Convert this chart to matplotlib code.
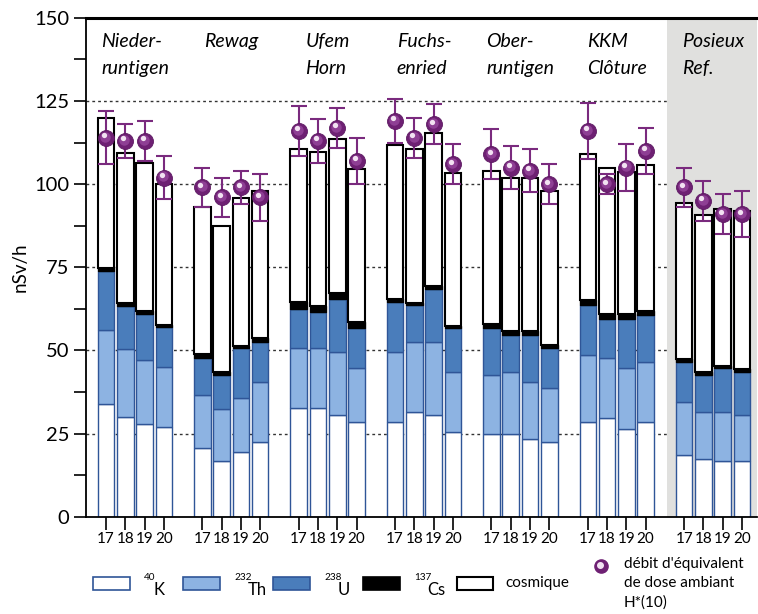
import matplotlib
matplotlib.use("Agg")
import matplotlib.pyplot as plt
from matplotlib.patches import Rectangle
from matplotlib.lines import Line2D
from matplotlib.transforms import offset_copy
import numpy as np

plt.rcParams['font.family'] = ['Lato', 'DejaVu Sans']

# Sites and measurement years
sites = ["Nieder-\nruntigen", "Rewag", "Ufem\nHorn", "Fuchs-\nenried",
         "Ober-\nruntigen", "KKM\nClôture", "Posieux\nRef."]
years = ["17", "18", "19", "20"]

# Dose-rate contributions per bar (nSv/h), four years per site
k40 = [34, 30, 28, 27, 20.6, 16.8, 19.6, 22.6, 32.6, 32.6, 30.6, 28.6,
       28.6, 31.6, 30.6, 25.5, 25, 25, 23.5, 22.6, 28.6, 29.6, 26.5, 28.6,
       18.5, 17.5, 16.8, 16.8]
th232 = [22, 20.5, 19, 18, 16, 15.6, 16, 18, 18, 18, 18.8, 16,
         21, 20.8, 22, 18.1, 17.6, 18.6, 17.1, 16, 20, 18, 18.1, 18,
         16.1, 14.1, 14.8, 13.8]
u238 = [18, 13, 14, 12, 11, 10.1, 15, 12, 12, 11, 16.2, 12,
        15, 11.2, 16, 13, 14, 11, 14, 12, 15, 12, 15, 14,
        12, 11, 13, 13]
cs137 = [0.7, 0.8, 0.8, 0.7, 1.3, 0.9, 0.8, 1.0, 2.0, 1.8, 1.8, 2.0,
         1.0, 0.8, 0.8, 0.8, 1.3, 1.3, 1.3, 1.1, 1.5, 1.3, 1.3, 1.3,
         0.8, 1.0, 0.8, 0.8]
cosmic = [45.3, 45.2, 44.7, 42.3, 44.3, 44.1, 44.4, 44.2, 46.1, 46.3, 46.3, 46.1,
          46.2, 46.3, 46.1, 46.1, 46.1, 45.9, 45.9, 46.1, 44.1, 43.9, 42.9, 43.9,
          46.8, 47.2, 47.1, 47.6]

# Ambient dose equivalent rate H*(10) with uncertainty
hstar = [114, 113, 113, 102, 99, 96, 99, 96, 116, 113, 117, 107,
         119, 114, 118, 106, 109, 105, 104, 100, 116, 100, 105, 110,
         99, 95, 91, 91]
hstar_err = [8, 5, 6, 6.5, 6, 6, 5, 7, 7.5, 6.5, 6, 7,
             6.5, 6, 6, 6, 7.5, 6.5, 6.5, 6, 8.5, 3, 7, 7,
             6, 6, 6, 7]

W, H = 758, 614
fig = plt.figure(figsize=(W / 100, H / 100), dpi=100)
ax = fig.add_axes([86 / W, 1 - 516.7 / H, (757 - 86) / W, (516.7 - 17.9) / H])

n_years = len(years)
xpos = np.array([g * (n_years + 1) + i for g in range(len(sites)) for i in range(n_years)])

blue_edge = "#2F5597"
c_th = "#8DB3E2"
c_u = "#4A7DBB"
bw = 0.86

bottom = np.zeros(len(xpos))
layers = [
    (k40, dict(facecolor="white", edgecolor=blue_edge, linewidth=1.0)),
    (th232, dict(facecolor=c_th, edgecolor=blue_edge, linewidth=1.0)),
    (u238, dict(facecolor=c_u, edgecolor=blue_edge, linewidth=1.0)),
    (cs137, dict(facecolor="black", edgecolor="black", linewidth=1.0)),
    (cosmic, dict(facecolor="white", edgecolor="black", linewidth=1.5)),
]
for vals, style in layers:
    vals = np.array(vals)
    ax.bar(xpos, vals, bw, bottom=bottom, zorder=3, **style)
    bottom = bottom + vals

# Reference site shading
ax.axvspan(29.12, 40, color="#E0E0DE", zorder=1, linewidth=0)

# Dose-rate markers with error bars
purple = "#7A2A7E"
ax.errorbar(xpos, hstar, yerr=hstar_err, fmt="none", ecolor=purple,
            elinewidth=1.5, capsize=5.6, capthick=1.5, zorder=5)
ax.plot(xpos, hstar, "o", ms=11.5, color="#6E2073", mec="#5E1A63", mew=0.6, zorder=6)
ax.plot(xpos, hstar, "o", ms=7.5, color="#8E3F94", mew=0, zorder=7,
        transform=offset_copy(ax.transData, fig=fig, x=-0.6, y=0.8, units="points"))
ax.plot(xpos, hstar, "o", ms=3.8, color="#F2E2F2", mew=0, zorder=8,
        transform=offset_copy(ax.transData, fig=fig, x=-1.4, y=1.8, units="points"))

# Axes
ax.set_xlim(-1.04, 33.78)
ax.set_ylim(0, 150)
ax.set_yticks(np.arange(0, 151, 25))
ax.set_yticks(np.arange(0, 151, 12.5), minor=True)
ax.set_yticklabels([str(v) for v in range(0, 151, 25)], fontsize=14.5)
ax.set_xticks(xpos)
ax.set_xticklabels(years * len(sites), fontsize=11)
ax.tick_params(axis="y", which="both", direction="out", length=9, width=1.2, pad=3)
ax.tick_params(axis="x", direction="out", length=9, width=1.2, pad=2)
ax.set_ylabel("nSv/h", fontsize=13.5, labelpad=4)

for v in range(25, 150, 25):
    ax.axhline(v, color="#333333", linestyle=(0, (2, 2.2)), linewidth=1.0, zorder=0.5)

ax.spines["right"].set_visible(False)
ax.spines["top"].set_linewidth(2.2)
ax.spines["left"].set_linewidth(1.3)
ax.spines["bottom"].set_linewidth(1.3)
for s in ax.spines.values():
    s.set_zorder(10)

# Site names, centred over each group of bars
for g, name in enumerate(sites):
    xc = g * (n_years + 1) + (n_years - 1) / 2
    ax.text(xc, 145.6, name, fontsize=14, style="italic",
            ha="center", va="top", multialignment="left",
            linespacing=1.75, zorder=9)

# Legend drawn in figure pixel space
def fx(x):
    return x / W

def fy(y):
    return 1 - y / H

leg_items = [
    (93, dict(facecolor="white", edgecolor=blue_edge, linewidth=1.2), "40", "K"),
    (183, dict(facecolor=c_th, edgecolor=blue_edge, linewidth=1.2), "232", "Th"),
    (273, dict(facecolor=c_u, edgecolor=blue_edge, linewidth=1.2), "238", "U"),
    (363, dict(facecolor="black", edgecolor="black", linewidth=1.2), "137", "Cs"),
]
for x0, st, mass, sym in leg_items:
    fig.add_artist(Rectangle((fx(x0), fy(590)), 37 / W, 13 / H,
                             transform=fig.transFigure, **st))
    fig.text(fx(x0 + 51), fy(578), mass, fontsize=7.2, ha="left", va="center")
    fig.text(fx(x0 + 51 + 4.3 * len(mass) + 0.5), fy(590), sym, fontsize=12,
             ha="left", va="center")

fig.add_artist(Rectangle((fx(457), fy(590)), 36 / W, 13 / H,
                         transform=fig.transFigure, facecolor="white",
                         edgecolor="black", linewidth=1.5))
fig.text(fx(505), fy(583), "cosmique", fontsize=11, ha="left", va="center")

mk = [Line2D([fx(601)], [fy(566)], marker="o", ms=9.5, color="#6E2073",
             transform=fig.transFigure),
      Line2D([fx(600.2)], [fy(564.8)], marker="o", ms=4, color="#F2E2F2",
             transform=fig.transFigure)]
for m in mk:
    fig.add_artist(m)
fig.text(fx(624), fy(557), "débit d'équivalent\nde dose ambiant\nH*(10)",
         fontsize=11, ha="left", va="top", linespacing=1.45,
         transform=fig.transFigure)

fig.savefig("out.png", dpi=100)
